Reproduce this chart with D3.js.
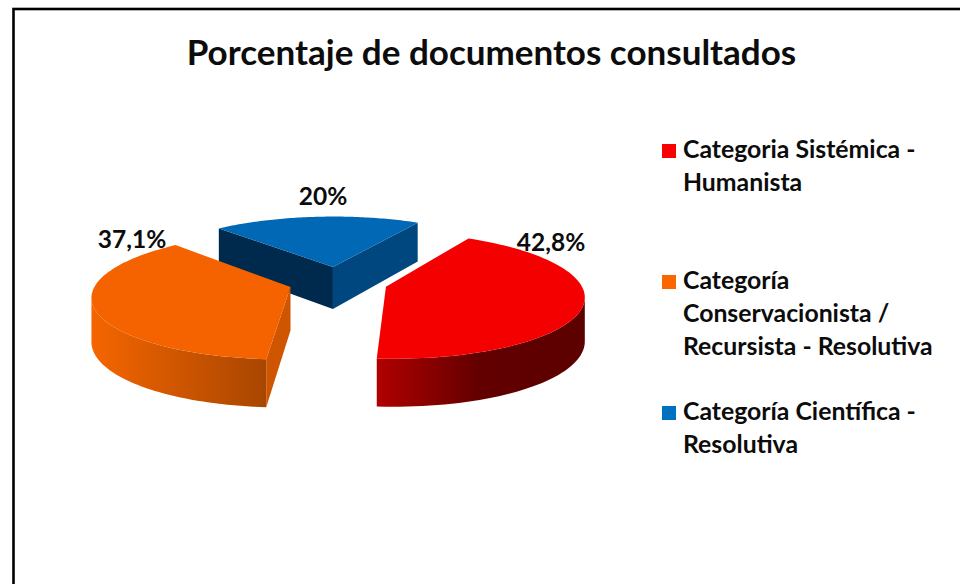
<!DOCTYPE html>
<html><head><meta charset="utf-8">
<script src="https://cdn.jsdelivr.net/npm/d3@7"></script>
<style>html,body{margin:0;padding:0;background:#fff}svg{display:block}text{font-family:Lato,"Open Sans",sans-serif;font-weight:700;fill:#0c0c0c}</style>
</head><body><svg id="c" width="960" height="584"></svg>
<script>
const titleText = "Porcentaje de documentos consultados";
const categories = ["Categoria Sistémica - Humanista","Categoría Conservacionista / Recursista - Resolutiva","Categoría Científica - Resolutiva"];
const legendLines = [["Categoria Sistémica -","Humanista"],["Categoría","Conservacionista /","Recursista - Resolutiva"],["Categoría Científica -","Resolutiva"]];
const values = [42.8,37.1,20];
const valueLabels = ["42,8%","37,1%","20%"];
const topColors = ["#f50000","#f56300","#0068b5"];
const legendColors = ["#fa0000","#fb6600","#0070c0"];
const wallStops = [[["0","#b00000"],["0.5","#620000"],["1","#5c0000"]],[["0","#f56500"],["1","#a84600"]],[["0","#00477f"],["1","#00477f"]]];
const faceColors = [["#7a0000","#7a0000"],["#d05500","#d05500"],["#002a4d","#00477f"]];

const svg = d3.select("#c");
const W=960,H=584;
const cx=338,cy=282,R=194,ry=61,k=0.135,explode=0.256,D=43,firstAngle=30*Math.PI/180;

svg.append("rect").attr("x",13.5).attr("y",9).attr("width",W+40).attr("height",H+40).attr("fill","#fff").attr("stroke","#000").attr("stroke-width",2.6);
svg.append("text").attr("x",491.5).attr("y",65).attr("text-anchor","middle").attr("font-size",35).text(titleText);

const arcs = d3.pie().sort(null).startAngle(firstAngle).endAngle(firstAngle+2*Math.PI).value(d=>d)(values);
const defs = svg.append("defs");
function proj(u,v,z){const s=1/(1+k*v);return [cx+R*u*s, cy-ry*v*s+(z?D*Math.pow(s,0.7):0)];}
const line=d3.line();
const order=[2,1,0];
order.forEach(i=>{
  const a=arcs[i], mid=(a.startAngle+a.endAngle)/2;
  const ox=explode*Math.sin(mid), oy=explode*Math.cos(mid);
  const P=(t,r,z)=>proj(ox+r*Math.sin(t),oy+r*Math.cos(t),z);
  const n=80, ts=d3.range(n+1).map(j=>a.startAngle+(a.endAngle-a.startAngle)*j/n);
  const g=svg.append("g");
  const grad=defs.append("linearGradient").attr("id","w"+i);
  wallStops[i].forEach(s=>grad.append("stop").attr("offset",s[0]).attr("stop-color",s[1]));
  const area=p=>d3.polygonArea(p);
  const f1=[P(a.startAngle,0,0),P(a.startAngle,1,0),P(a.startAngle,1,1),P(a.startAngle,0,1)];
  const f2=[P(a.endAngle,1,0),P(a.endAngle,0,0),P(a.endAngle,0,1),P(a.endAngle,1,1)];
  [f1,f2].forEach((f,j)=>{ if(area(f)>0) g.append("path").attr("d",line(f)+"Z").attr("fill",faceColors[i][j]); });
  const vis=[];
  for(let j=0;j<n;j++){
    const q=[P(ts[j],1,0),P(ts[j+1],1,0),P(ts[j+1],1,1),P(ts[j],1,1)];
    if(area(q)>0){ if(!vis.length) vis.push(ts[j]); vis.push(ts[j+1]); }
  }
  if(vis.length){
    const pts=vis.map(t=>P(t,1,0)).concat(vis.slice().reverse().map(t=>P(t,1,1)));
    g.append("path").attr("d",line(pts)+"Z").attr("fill",`url(#w${i})`);
  }
  const top=[P(0,0,0)].concat(ts.map(t=>P(t,1,0)));
  g.append("path").attr("d",line(top)+"Z").attr("fill",topColors[i]);
});

const labelPos=[[551,251],[132,248],[323,205]];
valueLabels.forEach((t,i)=>svg.append("text").attr("x",labelPos[i][0]).attr("y",labelPos[i][1]).attr("text-anchor","middle").attr("font-size",24.5).text(t));

const legendY=[158,289,420];
legendLines.forEach((ls,i)=>{
  svg.append("rect").attr("x",662).attr("y",legendY[i]-14).attr("width",14).attr("height",14).attr("fill",legendColors[i]);
  ls.forEach((t,j)=>svg.append("text").attr("x",683).attr("y",legendY[i]+j*33).attr("font-size",24.8).text(t));
});
</script></body></html>
